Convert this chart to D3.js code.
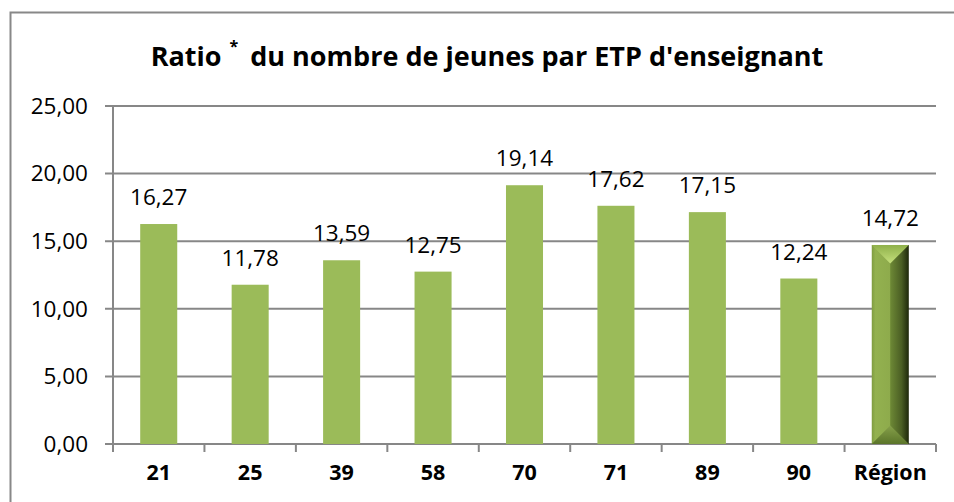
<!DOCTYPE html>
<html>
<head>
<meta charset="utf-8">
<script src="https://cdn.jsdelivr.net/npm/d3@7"></script>
<style>
  body { margin: 0; background: #fff; }
  svg { display: block; font-family: "Open Sans", sans-serif; }
</style>
</head>
<body>
<svg id="chart"></svg>
<script>
const categories = ["21", "25", "39", "58", "70", "71", "89", "90", "Région"];
const ratios = [16.27, 11.78, 13.59, 12.75, 19.14, 17.62, 17.15, 12.24, 14.72];
const yTicks = [0, 5, 10, 15, 20, 25];

const width = 954;
const height = 502;
const margin = { top: 106, right: 18, bottom: 58, left: 113 };
const innerW = width - margin.left - margin.right;
const innerH = height - margin.top - margin.bottom;

const fr = d3.formatLocale({ decimal: ",", thousands: " ", grouping: [3], currency: ["", " €"] });
const fmt = fr.format(".2f");

const svg = d3.select("#chart")
  .attr("width", width)
  .attr("height", height);

// chart area border
svg.append("rect")
  .attr("x", 10.5)
  .attr("y", 12.5)
  .attr("width", 960)
  .attr("height", 520)
  .attr("fill", "none")
  .attr("stroke", "#888")
  .attr("stroke-width", 2);

// title
const title = svg.append("text")
  .attr("x", 487)
  .attr("y", 66)
  .attr("text-anchor", "middle")
  .attr("font-weight", "bold")
  .attr("font-size", "27px")
  .attr("fill", "#000");
title.append("tspan").text("Ratio");
title.append("tspan").attr("dx", 8).attr("dy", -14).attr("font-size", "16px").text("*");
title.append("tspan").attr("dx", 12).attr("dy", 14).text("du nombre de jeunes par ETP d'enseignant");

const g = svg.append("g")
  .attr("transform", `translate(${margin.left}, ${margin.top})`);

const x = d3.scaleBand()
  .domain(categories)
  .range([0, innerW])
  .paddingInner(0)
  .paddingOuter(0);

const y = d3.scaleLinear()
  .domain([0, 25])
  .range([innerH, 0]);

// gridlines
g.append("g")
  .selectAll("line")
  .data(yTicks)
  .join("line")
  .attr("x1", -8)
  .attr("x2", innerW)
  .attr("y1", d => y(d))
  .attr("y2", d => y(d))
  .attr("stroke", "#878787")
  .attr("stroke-width", 2);

// y axis labels
const yAxis = d3.axisLeft(y)
  .tickValues(yTicks)
  .tickFormat(fmt)
  .tickSize(0)
  .tickPadding(25);

g.append("g")
  .call(yAxis)
  .call(s => s.select(".domain").remove())
  .selectAll("text")
  .attr("font-family", "Open Sans, sans-serif")
  .attr("font-size", "22.5px")
  .attr("fill", "#000");

// y axis line
g.append("line")
  .attr("x1", 0).attr("x2", 0)
  .attr("y1", 0).attr("y2", innerH + 8)
  .attr("stroke", "#878787")
  .attr("stroke-width", 2);

// x axis ticks at band boundaries
const bounds = categories.map(c => x(c)).concat([innerW]);
g.append("g")
  .selectAll("line")
  .data(bounds)
  .join("line")
  .attr("x1", d => d).attr("x2", d => d)
  .attr("y1", innerH).attr("y2", innerH + 8)
  .attr("stroke", "#878787")
  .attr("stroke-width", 2);

// x axis labels
const xAxis = d3.axisBottom(x).tickSize(0).tickPadding(21);
g.append("g")
  .attr("transform", `translate(0, ${innerH})`)
  .call(xAxis)
  .call(s => s.select(".domain").remove())
  .selectAll("text")
  .attr("font-family", "Open Sans, sans-serif")
  .attr("font-size", "21.5px")
  .attr("font-weight", "bold")
  .attr("fill", "#000");

// gradients for the Région bar
const defs = svg.append("defs");
const side = defs.append("linearGradient").attr("id", "regSide")
  .attr("x1", "0%").attr("x2", "100%").attr("y1", "0%").attr("y2", "0%");
side.append("stop").attr("offset", "0%").attr("stop-color", "#7f9c40");
side.append("stop").attr("offset", "10%").attr("stop-color", "#93b14f");
side.append("stop").attr("offset", "49%").attr("stop-color", "#8eab4c");
side.append("stop").attr("offset", "51%").attr("stop-color", "#6c8735");
side.append("stop").attr("offset", "80%").attr("stop-color", "#4b5f24");
side.append("stop").attr("offset", "100%").attr("stop-color", "#1e280b");

const topG = defs.append("linearGradient").attr("id", "regTop")
  .attr("x1", "0%").attr("x2", "0%").attr("y1", "0%").attr("y2", "100%");
topG.append("stop").attr("offset", "0%").attr("stop-color", "#8fb04a");
topG.append("stop").attr("offset", "100%").attr("stop-color", "#c5e07c");

const botG = defs.append("linearGradient").attr("id", "regBot")
  .attr("x1", "0%").attr("x2", "0%").attr("y1", "0%").attr("y2", "100%");
botG.append("stop").attr("offset", "0%").attr("stop-color", "#86a04a");
botG.append("stop").attr("offset", "100%").attr("stop-color", "#5b752a");

const barW = x.bandwidth() * 0.405;
const data = categories.map((c, i) => ({ cat: c, val: ratios[i] }));
const last = categories[categories.length - 1];

// plain bars
g.append("g")
  .selectAll("rect")
  .data(data.filter(d => d.cat !== last))
  .join("rect")
  .attr("x", d => x(d.cat) + (x.bandwidth() - barW) / 2)
  .attr("y", d => y(d.val))
  .attr("width", barW)
  .attr("height", d => y(0) - y(d.val))
  .attr("fill", "#9bbb59");

// bevelled Région bar
const reg = data.find(d => d.cat === last);
const rx0 = x(reg.cat) + (x.bandwidth() - barW) / 2;
const rx1 = rx0 + barW;
const rxc = (rx0 + rx1) / 2;
const ry0 = y(reg.val);
const ry1 = y(0);
const bev = barW / 2;
const rg = g.append("g");
rg.append("rect")
  .attr("x", rx0).attr("y", ry0)
  .attr("width", barW).attr("height", ry1 - ry0)
  .attr("fill", "url(#regSide)");
rg.append("polygon")
  .attr("points", [[rx0, ry0], [rx1, ry0], [rxc, ry0 + bev]].map(p => p.join(",")).join(" "))
  .attr("fill", "url(#regTop)");
rg.append("polygon")
  .attr("points", [[rx0, ry1], [rx1, ry1], [rxc, ry1 - bev]].map(p => p.join(",")).join(" "))
  .attr("fill", "url(#regBot)");

// value labels
g.append("g")
  .selectAll("text")
  .data(data)
  .join("text")
  .attr("x", d => x(d.cat) + x.bandwidth() / 2)
  .attr("y", d => y(d.val) - 19)
  .attr("text-anchor", "middle")
  .attr("font-size", "22.5px")
  .attr("fill", "#000")
  .text(d => fmt(d.val));
</script>
</body>
</html>
